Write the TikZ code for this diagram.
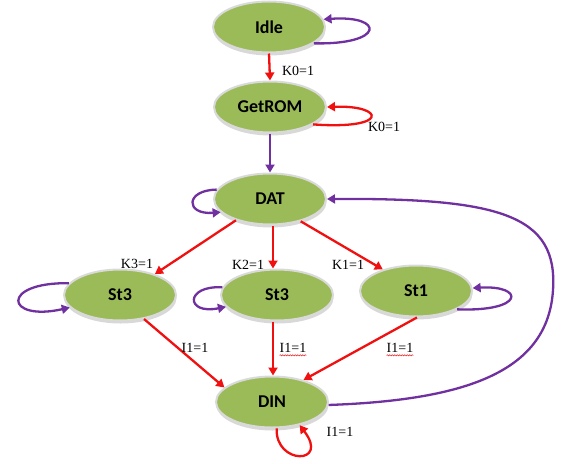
\documentclass[tikz,border=0pt]{standalone}
\usepackage{fontspec}
\setmainfont{Liberation Serif}
\newfontfamily\statefont{Carlito}
\usetikzlibrary{arrows.meta,shapes.geometric,shadows,decorations.pathmorphing}
\definecolor{stategreen}{RGB}{155,187,89}
\definecolor{loopviolet}{RGB}{112,48,160}
\definecolor{edgered}{RGB}{240,16,16}
\tikzset{
	stateshape/.style={ellipse, fill=stategreen, draw=white!85!black, line width=2pt,
		minimum width=112pt, minimum height=51pt, inner sep=0pt,
		font=\statefont\bfseries\fontsize{18}{21}\selectfont,
		drop shadow={shadow xshift=0.5pt, shadow yshift=-3pt, fill=black!30}},
	redarrow/.style={draw=edgered, line width=2.3pt, -{Triangle[length=8pt,width=9pt]}},
	violetarrow/.style={draw=loopviolet, line width=2.3pt, -{Triangle[length=8pt,width=9pt]}},
	condlabel/.style={font=\fontsize{14}{16}\selectfont, inner sep=0pt},
	spellmark/.style={draw=edgered, line width=0.5pt, decorate,
		decoration={snake, amplitude=0.6pt, segment length=2.5pt}}
}
\newcommand{\fsmstate}[4]{\node[stateshape] (#1) at (#2,#3) {#4}}
\newcommand{\cond}[4]{\node[condlabel] (#1) at (#2,#3) {#4}}

\begin{document}
\begin{tikzpicture}[x=1pt,y=-1pt]
	\useasboundingbox (0,0) rectangle (564,463);
	\fsmstate{idle}{269}{27}{Idle};
	\fsmstate{getrom}{270}{107}{GetROM};
	\fsmstate{dat}{270}{199}{DAT};
	\fsmstate{stthreel}{120}{295}{St3};
	\fsmstate{stthreem}{277}{295}{St3};
	\fsmstate{stone}{416}{291}{St1};
	\fsmstate{din}{272}{402}{DIN};
	\draw[violetarrow] (idle.-20) .. controls (385,45) and (385,15) .. (idle.8);
	\draw[redarrow] (idle.south) -- (getrom.north);
	\draw[redarrow] (getrom.-22) .. controls (390,130) and (385,105) .. (getrom.0);
	\draw[violetarrow] (getrom.south) -- (dat.north);
	\draw[violetarrow] (dat.170) .. controls (185,190) and (185,215) .. (dat.195);
	\draw[redarrow] (dat.212) -- (stthreel.31);
	\draw[redarrow] ([xshift=3pt]dat.south) -- ([xshift=3pt]dat.south |- stthreem.north);
	\draw[redarrow] (dat.-36) -- (stone.147);
	\draw[violetarrow] (stthreel.167) .. controls (0,282) and (5,322) .. (stthreel.194);
	\draw[violetarrow] (stthreem.172) .. controls (185,285) and (185,315) .. (stthreem.193);
	\draw[violetarrow] (stone.-24) .. controls (525,312) and (525,285) .. (stone.3);
	\draw[redarrow] (stthreel.-45) -- (din.163);
	\draw[redarrow] ([xshift=-4pt]stthreem.south) -- ([xshift=-4pt]stthreem.south |- din.north);
	\draw[redarrow] (stone.-88) -- (din.35);
	\draw[redarrow] (din.-80) .. controls (275,465) and (330,465) .. (din.-40);
	\draw[violetarrow] (din.-3) .. controls (470,400) and (548,370) .. (553,290)
		.. controls (558,215) and (500,198) .. (dat.east);
	\cond{kidle}{298}{71}{K0=1};
	\cond{kget}{384}{127}{K0=1};
	\cond{kthree}{137}{264}{K3=1};
	\cond{ktwo}{248}{265}{K2=1};
	\cond{kone}{348}{265}{K1=1};
	\cond{ileft}{195}{348}{I1=1};
	\cond{imid}{293}{348}{I1=1};
	\cond{iright}{400}{348}{I1=1};
	\cond{idin}{340}{432}{I1=1};
	\draw[spellmark] ([yshift=-2.5pt]imid.south west) -- ([yshift=-2.5pt]imid.south east);
	\draw[spellmark] ([yshift=-2.5pt]iright.south west) -- ([yshift=-2.5pt]iright.south east);
\end{tikzpicture}
\end{document}
